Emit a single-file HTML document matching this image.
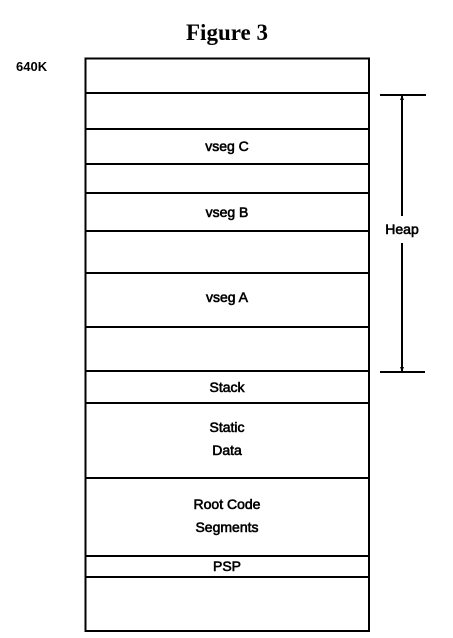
<!DOCTYPE html>
<html><head><meta charset="utf-8"><style>
html,body{margin:0;padding:0;background:#fff;width:453px;height:638px;overflow:hidden}
</style></head><body>
<svg width="453" height="638" xmlns="http://www.w3.org/2000/svg">
<rect width="453" height="638" fill="#fff"/>
<text x="227" y="40" text-anchor="middle" font-family="Liberation Serif, serif" font-weight="bold" font-size="23">Figure 3</text>
<text x="16" y="71" font-family="Liberation Sans, sans-serif" font-weight="bold" font-size="13">640K</text>
<rect x="85.5" y="58.5" width="283.5" height="572.5" fill="none" stroke="#000" stroke-width="2"/>
<g stroke="#000" stroke-width="2">
<line x1="85" y1="93" x2="369" y2="93"/>
<line x1="85" y1="129" x2="369" y2="129"/>
<line x1="85" y1="164" x2="369" y2="164"/>
<line x1="85" y1="193" x2="369" y2="193"/>
<line x1="85" y1="231" x2="369" y2="231"/>
<line x1="85" y1="273" x2="369" y2="273"/>
<line x1="85" y1="327" x2="369" y2="327"/>
<line x1="85" y1="371" x2="369" y2="371"/>
<line x1="85" y1="403" x2="369" y2="403"/>
<line x1="85" y1="478" x2="369" y2="478"/>
<line x1="85" y1="556" x2="369" y2="556"/>
<line x1="85" y1="577" x2="369" y2="577"/>
<line x1="380" y1="95" x2="426" y2="95"/>
<line x1="380" y1="372" x2="425" y2="372"/>
<line x1="402" y1="96" x2="402" y2="216"/>
<line x1="402" y1="243" x2="402" y2="371"/>
</g>
<polygon points="402,95 400,100 404,100" fill="#000"/>
<polygon points="402,372 400,367 404,367" fill="#000"/>
<g font-family="Liberation Sans, sans-serif" font-size="14" text-anchor="middle" fill="#000" stroke="#000" stroke-width="0.6">
<text x="402" y="234">Heap</text>
<text x="227" y="151">vseg C</text>
<text x="227" y="217">vseg B</text>
<text x="227" y="302">vseg A</text>
<text x="227" y="392">Stack</text>
<text x="227" y="432">Static</text>
<text x="227" y="455">Data</text>
<text x="227" y="509">Root Code</text>
<text x="227" y="532">Segments</text>
<text x="227" y="571">PSP</text>
</g>
</svg>
</body></html>
